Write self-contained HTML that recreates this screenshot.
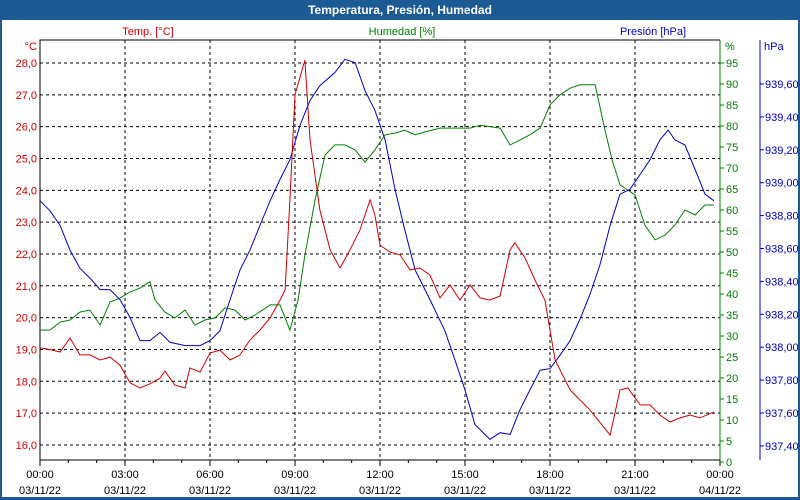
<!DOCTYPE html>
<html><head><meta charset="utf-8"><style>
body{margin:0;width:800px;height:500px;overflow:hidden;background:#fff;font-family:"Liberation Sans",sans-serif}
svg{display:block}
text{font-family:"Liberation Sans",sans-serif;font-size:11px}
</style></head><body>
<svg id="c" width="800" height="500">
<rect x="0" y="0" width="800" height="500" fill="#1c5a94"/>
<rect x="2" y="20" width="796" height="477" fill="#fff"/>
<text x="400" y="14" text-anchor="middle" fill="#fff" font-weight="bold" style="font-size:12px">Temperatura, Presión, Humedad</text>
<g id="g"></g>
</svg>
<script>
const tTimes=[0,0.35,0.71,1.06,1.41,1.76,2.12,2.47,2.82,3.18,3.53,3.88,4.24,4.41,4.76,5.12,5.29,5.65,6.0,6.35,6.71,7.06,7.41,7.76,8.12,8.47,8.65,8.82,9.0,9.35,9.53,9.88,10.24,10.59,10.94,11.29,11.65,11.82,12.0,12.35,12.71,13.06,13.41,13.76,14.12,14.47,14.82,15.18,15.53,15.88,16.24,16.59,16.76,17.12,17.47,17.82,18.18,18.71,19.41,20.12,20.47,20.75,21.18,21.53,21.88,22.24,22.59,22.94,23.29,23.79];
const tempVals=[19.05,19.0,18.92,19.36,18.83,18.83,18.67,18.76,18.51,17.95,17.79,17.92,18.10,18.32,17.88,17.79,18.42,18.29,18.89,18.98,18.67,18.83,19.30,19.61,19.99,20.55,20.87,23.70,27.0,28.09,25.58,23.38,22.13,21.56,22.13,22.75,23.70,23.22,22.28,22.06,21.97,21.50,21.56,21.34,20.62,21.03,20.55,21.03,20.62,20.55,20.68,22.13,22.35,21.87,21.18,20.55,18.67,17.73,17.10,16.31,17.73,17.79,17.26,17.26,16.94,16.72,16.85,16.94,16.85,17.04];
const hTimes=[0,0.35,0.71,1.06,1.41,1.76,2.12,2.47,2.82,3.18,3.53,3.88,4.06,4.41,4.76,5.12,5.47,5.82,6.18,6.53,6.88,7.24,7.59,8.12,8.47,8.82,9.11,9.35,9.71,10.06,10.41,10.76,11.12,11.47,11.82,12.18,12.53,12.88,13.24,13.59,14.12,14.65,15.18,15.53,16.24,16.59,16.94,17.29,17.65,18.0,18.35,18.71,19.06,19.59,19.94,20.19,20.47,21.0,21.35,21.71,22.06,22.41,22.76,23.12,23.47,23.79];
const humVals=[31.4,31.4,33.3,33.8,35.7,36.2,32.6,38.1,39.0,40.5,41.4,42.9,38.6,35.7,34.3,36.2,32.6,33.8,34.3,36.7,36.2,33.8,35.0,37.4,37.4,31.4,38.6,49.3,62.4,73.1,75.5,75.5,74.3,71.4,74.3,77.9,78.3,79.0,77.9,78.6,79.5,79.5,79.5,80.2,79.5,75.5,76.7,77.9,79.5,85.0,87.4,89.0,89.8,89.8,79.0,71.9,66.0,63.6,56.4,52.9,54.0,56.4,60.0,58.8,61.2,61.2];
const pTimes=[0,0.35,0.71,1.06,1.41,1.76,2.12,2.47,2.82,3.18,3.53,3.88,4.24,4.59,5.12,5.65,6.0,6.35,6.71,7.06,7.41,7.76,8.12,8.47,8.82,9.18,9.53,9.88,10.41,10.76,11.12,11.47,11.82,12.18,12.53,12.88,13.24,13.76,14.29,14.65,15.0,15.35,15.88,16.24,16.59,16.94,17.29,17.65,18.0,18.35,18.71,19.06,19.41,19.76,20.12,20.47,20.82,21.18,21.53,21.88,22.17,22.41,22.76,23.12,23.47,23.79];
const presVals=[938.89,938.83,938.74,938.59,938.48,938.42,938.35,938.35,938.29,938.18,938.04,938.04,938.09,938.03,938.01,938.01,938.04,938.10,938.29,938.47,938.59,938.74,938.89,939.02,939.14,939.35,939.50,939.59,939.67,939.75,939.73,939.56,939.44,939.26,938.96,938.71,938.47,938.29,938.10,937.92,937.74,937.53,937.44,937.48,937.47,937.62,937.74,937.86,937.87,937.95,938.04,938.17,938.32,938.50,938.74,938.93,938.96,939.05,939.14,939.26,939.32,939.26,939.23,939.08,938.93,938.89];
const tempTicks=["16,0","17,0","18,0","19,0","20,0","21,0","22,0","23,0","24,0","25,0","26,0","27,0","28,0"];
const humTicks=["0","5","10","15","20","25","30","35","40","45","50","55","60","65","70","75","80","85","90","95"];
const presTicks=["937,40","937,60","937,80","938,00","938,20","938,40","938,60","938,80","939,00","939,20","939,40","939,60"];
const xTickLabels=["00:00","03:00","06:00","09:00","12:00","15:00","18:00","21:00","00:00"];
const xDateLabels=["03/11/22","03/11/22","03/11/22","03/11/22","03/11/22","03/11/22","03/11/22","03/11/22","04/11/22"];

const L=40,R=720,T=40,B=460;
const xS=h=>L+h*(R-L)/24;
const yT=v=>63+(28-v)*31.83;
const yH=v=>462-v*4.2;
const yP=v=>84+(939.6-v)/0.2*32.9;
const NS="http://www.w3.org/2000/svg";
const g=document.getElementById('g');
function mk(tag,at,txt){const e=document.createElementNS(NS,tag);for(const k in at)e.setAttribute(k,at[k]);if(txt!==undefined)e.textContent=txt;g.appendChild(e);return e;}

// horizontal grid (temp ticks)
tempTicks.forEach((lab,i)=>{const v=16+i;const y=yT(v);
 const l=mk('line',{x1:L,x2:R,y1:y,y2:y,stroke:'#000','stroke-dasharray':'3,3'});
 
 const t=mk('text',{x:L-3,y:y+4,'text-anchor':'end',fill:'#d00000'},lab);
 
});
// vertical grid
xTickLabels.forEach((lab,i)=>{const x=xS(i*3);
 if(i>0&&i<8){const l=mk('line',{x1:x,x2:x,y1:T,y2:B,stroke:'#000','stroke-dasharray':'3,3'});
 }
 const t=mk('text',{x:x,y:478,'text-anchor':'middle',fill:'#000'},lab);
 
 const d=mk('text',{x:x,y:494,'text-anchor':'middle',fill:'#000'},xDateLabels[i]);
 
});
for(let h=0;h<=24;h++){const x=xS(h);const l=mk('line',{x1:x,x2:x,y1:B,y2:B+(h%3?3:6),stroke:'#000'});
 }
// frame
const fr=mk('polyline',{points:`${L},${B} ${L},${T} ${R},${T}`,fill:'none',stroke:'#000'});

const xb=mk('line',{x1:L,x2:R,y1:B,y2:B,stroke:'#000'});

const ga=mk('line',{x1:R,x2:R,y1:T,y2:B,stroke:'#008000'});

humTicks.forEach((lab,i)=>{const y=yH(i*5);
 const l=mk('line',{x1:R,x2:R+4,y1:y,y2:y,stroke:'#008000'});
 
 const t=mk('text',{x:R+6,y:y+4,fill:'#008000'},lab);
 });
const pa=mk('line',{x1:760,x2:760,y1:T,y2:B,stroke:'#0000c0'});

presTicks.forEach((lab,i)=>{const y=yP(937.4+i*0.2);
 const l=mk('line',{x1:760,x2:764,y1:y,y2:y,stroke:'#0000c0'});
 
 const t=mk('text',{x:765,y:y+4,fill:'#0000c0'},lab);
 });
// axis titles
[[148,35,'Temp. [°C]','#d00000','middle','temp-legend'],[402,35,'Humedad [%]','#008000','middle','humidity-legend'],[653,35,'Presión [hPa]','#0000c0','middle','pressure-legend'],
 [37,50,'°C','#d00000','end','temp-unit'],[725,50,'%','#008000','start','humidity-unit'],[764,50,'hPa','#0000c0','start','pressure-unit']].forEach(a=>{
 const t=mk('text',{x:a[0],y:a[1],fill:a[3],'text-anchor':a[4]},a[2]);
 });
// series
function series(times,vals,ys,col,name){
 const pts=times.map((h,i)=>xS(h).toFixed(1)+','+ys(vals[i]).toFixed(1)).join(' ');
 const p=mk('polyline',{points:pts,fill:'none',stroke:col,'stroke-width':1});
 }
series(hTimes,humVals,yH,'#008000','humidity-line');
series(pTimes,presVals,yP,'#0000c8','pressure-line');
series(tTimes,tempVals,yT,'#d00000','temperature-line');
</script>
</body></html>
